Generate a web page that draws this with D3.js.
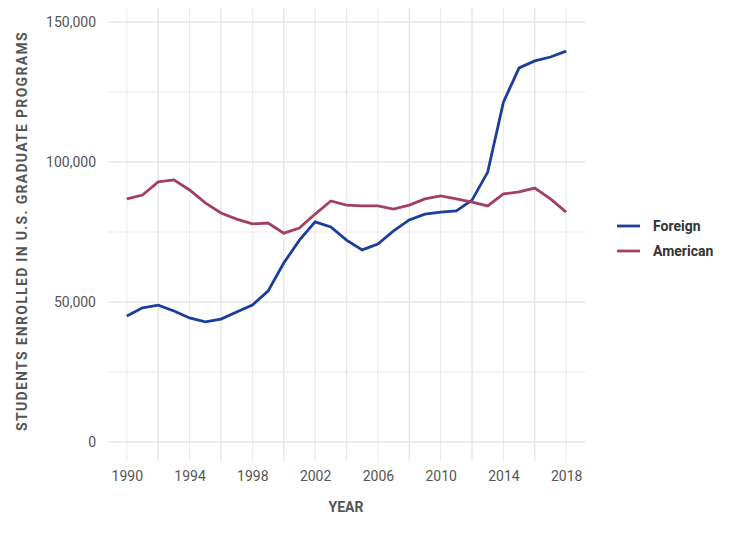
<!DOCTYPE html>
<html><head><meta charset="utf-8">
<script src="https://cdn.jsdelivr.net/npm/d3@7"></script>
<style>body{margin:0;background:#fff;font-family:Roboto,sans-serif}</style>
</head><body><svg id="c" width="744" height="534"></svg>
<script>
const years=d3.range(1990,2019);
const foreign=[45.0,47.9,48.9,46.8,44.3,42.9,43.9,46.4,48.9,53.9,63.9,72.1,78.6,76.8,72.1,68.6,70.7,75.4,79.3,81.4,82.1,82.5,86.4,96.4,121.4,133.6,136.1,137.5,139.6].map(v=>v*1000);
const american=[86.8,88.2,92.9,93.6,90,85.4,81.8,79.6,77.9,78.2,74.6,76.4,81.4,86.1,84.6,84.3,84.3,83.2,84.6,86.8,87.9,86.8,85.7,84.3,88.6,89.3,90.7,86.8,82.1].map(v=>v*1000);
const yTicks=[0,50000,100000,150000];
const xTicks=[1990,1994,1998,2002,2006,2010,2014,2018];
const series=[{name:"Foreign",values:foreign,color:"#1b3d9b"},{name:"American",values:american,color:"#a43f63"}];

const svg=d3.select("#c");
const x=d3.scaleLinear().domain([1988.8,2019.2]).range([108,585]);
const y=d3.scaleLinear().domain([-7000,155000]).range([461.6,8]);
const g=svg.append("g");
d3.range(1990,2019,2).forEach(yr=>g.append("line").attr("x1",x(yr)).attr("x2",x(yr)).attr("y1",8).attr("y2",461).attr("stroke","#e6e6e6").attr("stroke-width",yr%4==2?0.9:1.4));
d3.range(0,150001,25000).forEach(v=>g.append("line").attr("x1",108).attr("x2",585).attr("y1",y(v)).attr("y2",y(v)).attr("stroke","#e6e6e6").attr("stroke-width",v%50000?0.9:1.4));
const xa=svg.append("g").attr("transform","translate(0,461)").call(d3.axisBottom(x).tickValues(xTicks).tickFormat(d3.format("d")).tickSize(0).tickPadding(10));
const ya=svg.append("g").attr("transform","translate(108,0)").call(d3.axisLeft(y).tickValues(yTicks).tickFormat(d3.format(",")).tickSize(0).tickPadding(12));
[xa,ya].forEach(a=>{a.select(".domain").remove();a.selectAll("text").attr("fill","#555").style("font-size","14px").style("font-family","Roboto");});
const line=d3.line().x((d,i)=>x(years[i])).y(d=>y(d));
series.forEach(s=>svg.append("path").datum(s.values).attr("d",line).attr("fill","none").attr("stroke",s.color).attr("stroke-width",2.8));
svg.append("text").attr("x",346).attr("y",512).attr("text-anchor","middle").attr("fill","#555").style("font-size","14px").style("font-weight","bold").text("YEAR");
svg.append("text").attr("transform","translate(27,231) rotate(-90)").attr("text-anchor","middle").attr("fill","#555").style("font-size","14px").style("font-weight","bold").style("letter-spacing","1.3px").text("STUDENTS ENROLLED IN U.S. GRADUATE PROGRAMS");
series.forEach((s,i)=>{const yy=226+i*25;
svg.append("line").attr("x1",617).attr("x2",640).attr("y1",yy).attr("y2",yy).attr("stroke",s.color).attr("stroke-width",2.8);
svg.append("text").attr("x",653).attr("y",yy+5).attr("fill","#333").style("font-size","14px").style("font-weight","bold").text(s.name);});
</script></body></html>
